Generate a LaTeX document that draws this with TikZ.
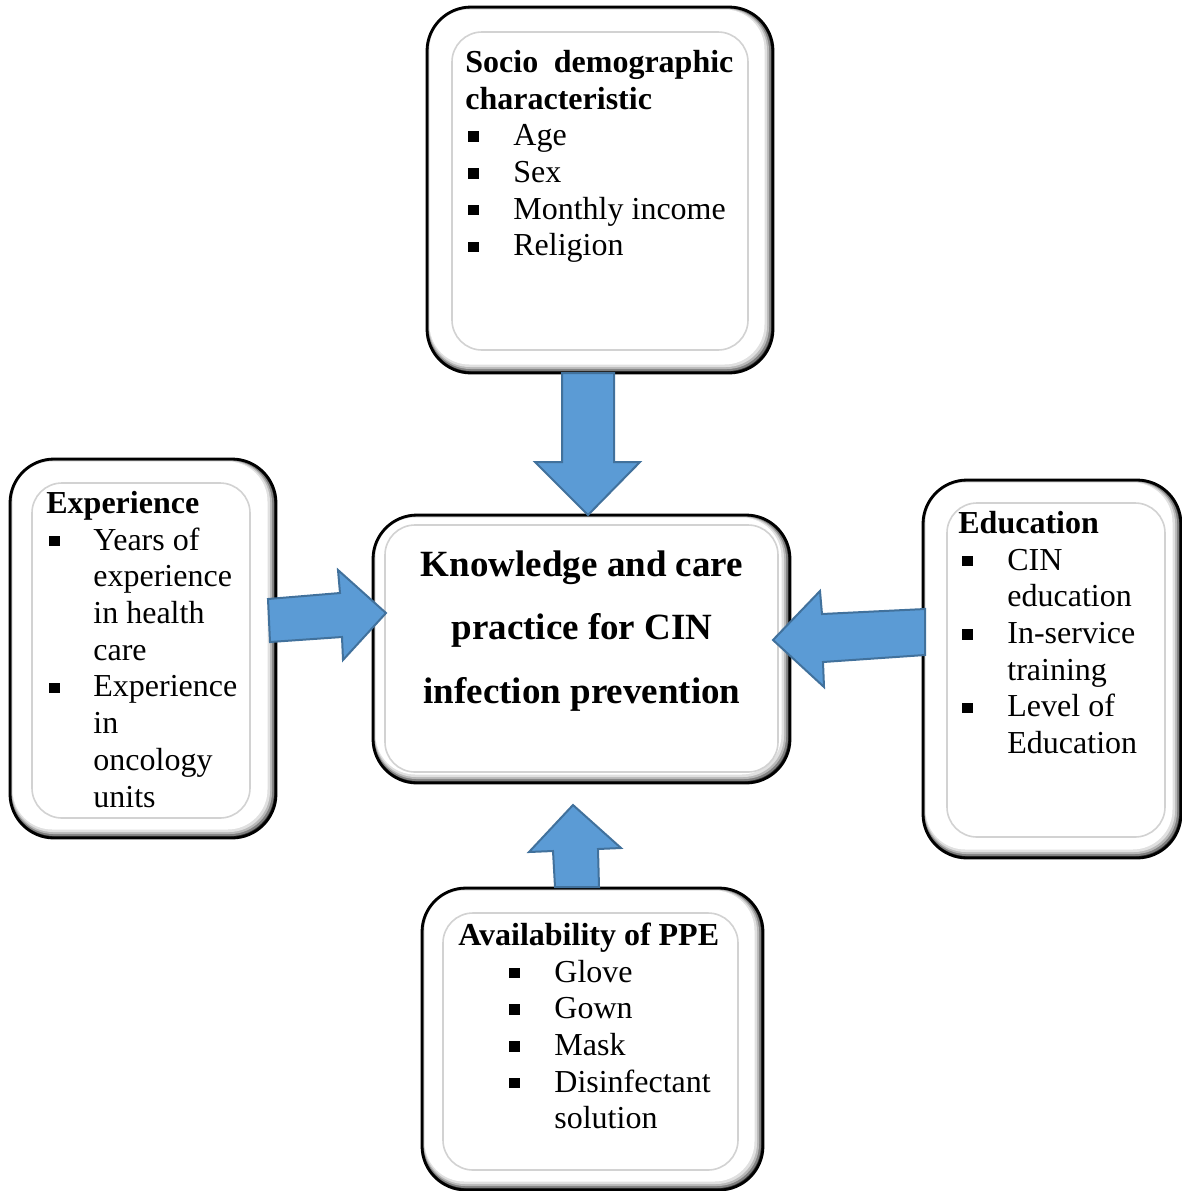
\documentclass[tikz,border=0pt]{standalone}
\usepackage{fontspec}
\setmainfont{Liberation Serif}
\definecolor{arrowfill}{HTML}{5B9BD5}
\definecolor{arrowline}{HTML}{41719C}
\newcommand\bl[2]{\makebox[#2][l]{\hspace*{#1}\rule[2pt]{5.2pt}{5.2pt}}}
% #1 name, #2-#5 outer box, #6-#9 inner line
\newcommand\bevbox[9]{%
  \fill[black!80, rounded corners=22pt] (#2,#3) rectangle (#4,#5);
  \fill[black!50, rounded corners=21.5pt] (#2+1,#3+1) rectangle (#4-2,#5-2);
  \fill[black!28, rounded corners=21pt] (#2+1.5,#3+1.5) rectangle (#4-4,#5-4);
  \fill[black!12, rounded corners=20.5pt] (#2+2,#3+2) rectangle (#4-6,#5-6);
  \fill[white, rounded corners=20pt] (#2+2.5,#3+2.5) rectangle (#4-8.5,#5-8.5);
  \draw[black, line width=1.4pt, rounded corners=22pt] (#2,#3) rectangle (#4,#5);
  \draw[gray!35, line width=0.8pt, rounded corners=15pt] (#6,#7) rectangle (#8,#9);
  \coordinate (#1) at ($(#2,#3)!0.5!(#4,#5)$);
}
\usetikzlibrary{calc}
\begin{document}
\begin{tikzpicture}[x=0.5pt,y=-0.5pt]
\tikzset{
  listtext/.style={font=\fontsize{16}{18.35}\selectfont, inner sep=0pt, anchor=north west, align=left},
  maintext/.style={font=\fontsize{18.5}{31.75}\selectfont\bfseries, inner sep=0pt, anchor=north, align=center},
  blockarrow/.style={fill=arrowfill, draw=arrowline, line width=1pt, line join=miter},
}
\useasboundingbox (0,0) rectangle (1182,1191);
\fill[white] (0,0) rectangle (1182,1191);

% boxes
\bevbox{socio}{427}{7}{773}{373}{452}{32}{748}{350}
\bevbox{exper}{10}{459}{276}{838}{32}{483}{250}{818}
\bevbox{educ}{923}{480}{1181}{858}{947}{503}{1165}{837}
\bevbox{ppe}{422}{888}{763}{1190}{443}{913}{738}{1170}
\bevbox{centre}{373}{515}{790}{783}{385}{525}{778}{772}

% texts
\node[listtext] (sociotext) at (465,46.3) {\strut\makebox[134pt][s]{\textbf{Socio demographic}}\\
\textbf{characteristic}\\
\bl{1.5pt}{24pt}Age\\
\bl{1.5pt}{24pt}Sex\\
\bl{1.5pt}{24pt}Monthly income\\
\bl{1.5pt}{24pt}Religion};

\node[listtext] (expertext) at (46,487.3) {\strut\textbf{Experience}\\
\bl{1.5pt}{23.5pt}Years of\\
\hspace*{23.5pt}experience\\
\hspace*{23.5pt}in health\\
\hspace*{23.5pt}care\\
\bl{1.5pt}{23.5pt}Experience\\
\hspace*{23.5pt}in\\
\hspace*{23.5pt}oncology\\
\hspace*{23.5pt}units};

\node[listtext] (eductext) at (958,507.3) {\strut\textbf{Education}\\
\bl{2pt}{24.5pt}CIN\\
\hspace*{24.5pt}education\\
\bl{2pt}{24.5pt}In-service\\
\hspace*{24.5pt}training\\
\bl{2pt}{24.5pt}Level of\\
\hspace*{24.5pt}Education};

\node[listtext] (ppetext) at (458,919.3) {\strut\textbf{Availability of PPE}\\
\bl{25.5pt}{48pt}Glove\\
\bl{25.5pt}{48pt}Gown\\
\bl{25.5pt}{48pt}Mask\\
\bl{25.5pt}{48pt}Disinfectant\\
\hspace*{48pt}solution};

\node[maintext] (centretext) at (582,531.5) {\strut Knowledge and care\\practice for CIN\\infection prevention};

% block arrows
\draw[blockarrow] (562,373) -- (614,373) -- (614,462) -- (640,462) -- (588,515) -- (535,462) -- (562,462) -- cycle;
\draw[blockarrow] (268,599) -- (340,593) -- (338,570) -- (386,613) -- (343,660) -- (342,637) -- (270,642) -- cycle;
\draw[blockarrow] (925,609) -- (822,614) -- (820,591) -- (773,640) -- (824,687) -- (823,662) -- (925,655) -- cycle;
\draw[blockarrow] (555,887) -- (599,887) -- (598,849) -- (621,848) -- (573,805) -- (529,852) -- (553,851) -- cycle;
\end{tikzpicture}
\end{document}
